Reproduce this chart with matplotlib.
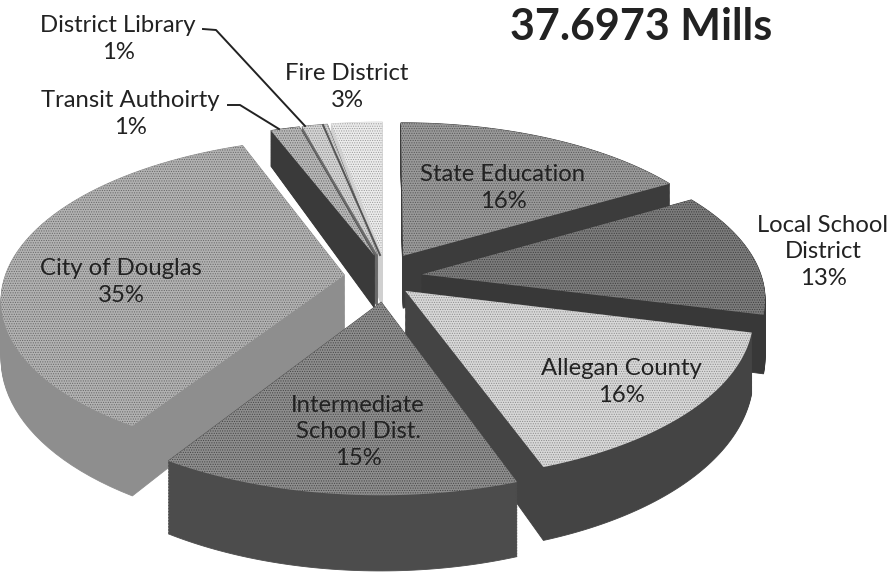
import matplotlib
matplotlib.use("Agg")
import matplotlib.pyplot as plt
import numpy as np

plt.rcParams['font.family'] = ['Lato', 'DejaVu Sans']
plt.rcParams['hatch.linewidth'] = 0.5

# slices, clockwise from 12 o'clock
names = ['State Education', 'Local School\nDistrict', 'Allegan County',
         'Intermediate\nSchool Dist.', 'City of Douglas', 'Transit Authoirty',
         'District Library', 'Fire District']
percent = [16, 13, 16, 15, 35, 1, 1, 3]
values = [16.5, 12.5, 15.5, 14.5, 35.2, 1.6, 1.4, 2.8]
explode = [0.11, 0.11, 0.08, 0.10, 0.12, 0.10, 0.10, 0.10]
top_colors = ['#9a9a9a', '#7c7c7c', '#d8d8d8', '#8e8e8e', '#b2b2b2', '#b8b8b8', '#d4d4d4', '#ececec']
hatch_colors = ['#555555', '#3c3c3c', '#8a8a8a', '#444444', '#666666', '#666666', '#888888', '#999999']
side_colors = ['#3c3c3c', '#383838', '#444444', '#4c4c4c', '#8e8e8e', '#3a3a3a', '#6a6a6a', '#d0d0d0']
# back slices first so the front ones cover them
draw_order = [4, 7, 6, 5, 0, 1, 2, 3]

CX, CY = 385, 278
RX, RY = 340, 158
PERSP = 0.143


def project(u, v):
    s = 1 / (1 + PERSP * v)
    return CX + RX * u * s, CY - RY * v * s


def slice_outline(start, end, expl):
    mid = (start + end) / 2
    du, dv = expl * np.sin(mid), 1.5 * expl * np.cos(mid)
    th = np.linspace(start, end, 60)
    u = np.r_[du, du + np.sin(th)]
    v = np.r_[dv, dv + np.cos(th)]
    return u, v


fig = plt.figure(figsize=(8.96, 5.73), dpi=100)
ax = fig.add_axes([0, 0, 1, 1])
ax.set_xlim(0, 896)
ax.set_ylim(573, 0)
ax.axis('off')

edges = np.r_[0, np.cumsum(values)] / np.sum(values) * 2 * np.pi
for i in draw_order:
    u, v = slice_outline(edges[i], edges[i + 1], explode[i])
    x, y = project(u, v)
    # side wall: stack of copies going down, walls look taller at the front
    wall = 55 - 18 * v
    for h in np.linspace(1, 0, 50):
        ax.fill(x, y + wall * h, color=side_colors[i], lw=0.6)
    ax.fill(x, y, facecolor=top_colors[i], edgecolor=hatch_colors[i], hatch='.......', lw=0)

label_font = 17.2
ink = '#222222'
for i, (tx, ty) in enumerate([(503, 188), (823, 252), (621, 382), (358, 432),
                              (121, 282), (130, 114), (118, 39), (347, 87)]):
    ax.text(tx, ty, f'{names[i]}\n{percent[i]}%', ha='center', va='center',
            fontsize=label_font, color=ink, linespacing=1.35)

# leader lines
ax.plot([203, 216, 305], [29, 30, 126], color=ink, lw=1.4)
ax.plot([228, 240, 279], [105, 105, 129], color=ink, lw=1.4)
ax.plot([323, 380], [125, 255], color='#555555', lw=1.4)

ax.text(641, 27, '37.6973 Mills', ha='center', va='center', fontsize=31, fontweight='bold', color=ink)

fig.savefig('out.png', dpi=100)
